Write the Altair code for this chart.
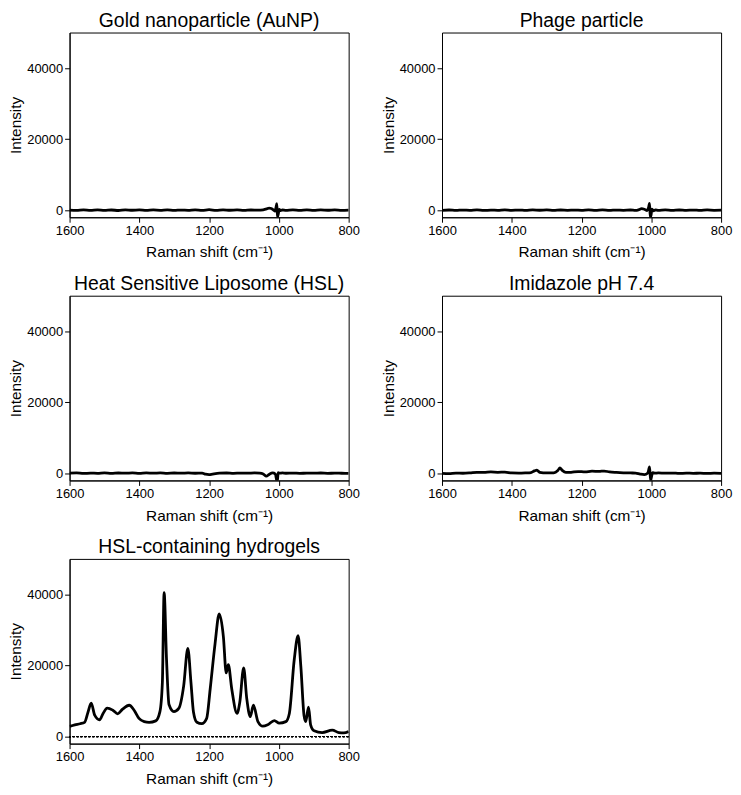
import altair as alt
import pandas as pd

# ---------------- data ----------------
titles = [
    "Gold nanoparticle (AuNP)",
    "Phage particle",
    "Heat Sensitive Liposome (HSL)",
    "Imidazole pH 7.4",
    "HSL-containing hydrogels",
]
x_ticks = [1600, 1400, 1200, 1000, 800]
y_ticks = [0, 20000, 40000]

au_x = [1600, 1580, 1560, 1540, 1520, 1500, 1480, 1460, 1440, 1420, 1400, 1380, 1360, 1340,
        1320, 1300, 1280, 1260, 1240, 1220, 1200, 1180, 1160, 1140, 1120, 1100, 1080, 1060,
        1045, 1035, 1028, 1022, 1016, 1011, 1008, 1006, 1004, 1002, 999, 995, 990, 980, 960,
        940, 920, 900, 880, 860, 840, 820, 800]
au_y = [0, -80, 60, -40, 90, -60, 40, -100, 80, -30, 60, -90, 50, -40,
        100, -70, 30, -50, 80, -40, 120, -60, 90, -30, 50, -80, 40, -20,
        100, 350, 600, 450, 100, -300, 900, 1800, -1900, -1200, 200, -100, 60, -50, 80,
        -40, 60, -70, 50, -30, 70, -50, 0]

ph_x = [1600, 1580, 1560, 1540, 1520, 1500, 1480, 1460, 1440, 1420, 1400, 1380, 1360, 1340,
        1320, 1300, 1280, 1260, 1240, 1220, 1200, 1180, 1160, 1140, 1120, 1100, 1080, 1060,
        1045, 1035, 1028, 1020, 1012, 1008, 1005, 1003, 1001, 998, 994, 988, 980, 960,
        940, 920, 900, 880, 860, 840, 820, 800]
ph_y = [-60, 40, -80, 30, -50, 60, -90, 20, -40, 70, -60, 30, -80, 50,
        -30, 60, -70, 40, -50, 30, -60, 80, -40, 60, -70, 30, -50, 40,
        -80, 150, 400, 250, -100, 700, 1900, -2000, -1500, 300, -200, 80, -60, 50,
        -70, 40, -60, 30, -80, 50, -40, 0]

hs_x = [1600, 1580, 1560, 1540, 1520, 1500, 1480, 1460, 1440, 1420, 1400, 1380, 1360, 1340,
        1320, 1300, 1280, 1260, 1240, 1220, 1210, 1200, 1190, 1170, 1150, 1130, 1110, 1090,
        1070, 1055, 1045, 1036, 1028, 1018, 1010, 1006, 1004, 1002, 998, 990, 980, 960,
        940, 920, 900, 880, 860, 840, 820, 800]
hs_y = [50, 120, -40, 80, 10, 140, -20, 90, 30, 110, -10, 100, 40, 130,
        0, 90, 60, 110, 20, 60, -250, -350, -200, 40, 90, -10, 70, 30,
        100, 40, -200, -800, -300, 100, -200, -2000, -1800, 200, 50, 100, 20, 80,
        -10, 60, 30, 90, 0, 50, 20, 0]

im_x = [1600, 1580, 1560, 1540, 1520, 1500, 1480, 1460, 1440, 1420, 1400, 1380, 1360, 1345,
        1335, 1328, 1320, 1300, 1280, 1268, 1262, 1256, 1245, 1230, 1210, 1190, 1170, 1150,
        1135, 1120, 1100, 1080, 1060, 1045, 1032, 1020, 1010, 1005, 1002, 1000, 996, 990,
        980, 960, 940, 920, 900, 880, 860, 840, 820, 800]
im_y = [0, -60, 80, 20, 120, 300, 250, 380, 300, 320, 100, 60, 120, 200,
        700, 900, 300, 100, 150, 800, 1500, 900, 250, 300, 500, 400, 600, 550,
        650, 400, 250, 150, 100, 80, -200, -350, 100, 1800, -2000, -1200, 200, 50,
        100, 30, 80, -20, 60, 10, 40, -30, 50, 0]

hg_x = [1600, 1585, 1570, 1557, 1547, 1538, 1528, 1514, 1504, 1492, 1476, 1462, 1448, 1429,
        1415, 1401, 1386, 1372, 1353, 1341, 1334, 1329, 1322, 1315, 1301, 1287, 1273, 1261,
        1252, 1245, 1235, 1221, 1207, 1197, 1183, 1171, 1159, 1151, 1145, 1135, 1120, 1112,
        1101, 1092, 1082, 1073, 1060, 1046, 1032, 1013, 999, 980, 970, 956, 945, 937,
        928, 923, 915, 909, 899, 876, 847, 828, 814, 800]
hg_y = [2850, 3300, 3600, 4000, 6900, 9400, 6000, 4700, 6500, 8000, 7400, 6400, 7700, 8800,
        7400, 5100, 4200, 4000, 4400, 7000, 15200, 40500, 21500, 9000, 7000, 7900, 14200, 24800,
        15200, 7000, 4000, 3600, 5100, 13300, 26100, 34500, 28000, 17900, 20200, 13300, 6500, 9700,
        19300, 10600, 5600, 8800, 4200, 2900, 3300, 4500, 3800, 4200, 6500, 21600, 28400, 19700,
        6000, 4200, 8300, 3300, 1600, 1100, 1800, 1100, 1000, 1400]

series = [(au_x, au_y), (ph_x, ph_y), (hs_x, hs_y), (im_x, im_y), (hg_x, hg_y)]
FONT = "Liberation Sans"


def panel(xs, ys, title, zero_line=False):
    df = pd.DataFrame({"shift": xs, "intensity": ys})
    xenc = alt.X(
        "shift:Q",
        scale=alt.Scale(domain=[800, 1600], reverse=True, nice=False, zero=False),
        axis=alt.Axis(values=x_ticks, format="d", title="Raman shift (cm⁻¹)", labelFlush=False),
    )
    yenc = alt.Y(
        "intensity:Q",
        scale=alt.Scale(domain=[-2000, 50000], nice=False, zero=False),
        axis=alt.Axis(values=y_ticks, format="d", title="Intensity"),
    )
    line = alt.Chart(df).mark_line(
        color="black", strokeWidth=2.8, clip=True, interpolate="monotone"
    ).encode(x=xenc, y=yenc)
    layers = []
    if zero_line:
        rule = alt.Chart(df).mark_rule(color="black", strokeWidth=1, strokeDash=[2, 2]).encode(
            y=alt.datum(0)
        )
        layers.append(rule)
    layers.append(line)
    return alt.layer(*layers).properties(
        width=281,
        height=186,
        title=alt.TitleParams(
            text=title, fontSize=19.5, font=FONT, fontWeight="normal", color="black", offset=1
        ),
    )


charts = [panel(x, y, t, zero_line=(i == 4)) for i, ((x, y), t) in enumerate(zip(series, titles))]

chart = (
    alt.concat(*charts, columns=2, spacing={"row": 13, "column": 20})
    .properties(padding={"left": 0, "top": 0, "right": 0, "bottom": 0})
    .configure_view(stroke="black", strokeWidth=1)
    .configure_axis(
        grid=False,
        labelFont=FONT,
        labelFontSize=13,
        labelColor="black",
        titleFont=FONT,
        titleFontSize=15.5,
        titleFontWeight="normal",
        titleColor="black",
        domainColor="black",
        tickColor="black",
        tickSize=5,
        labelPadding=2,
    )
    .configure_axisX(titlePadding=8)
    .configure_axisY(titlePadding=3)
)

chart.save("out.html", embed_options={"renderer": "svg", "actions": False})
